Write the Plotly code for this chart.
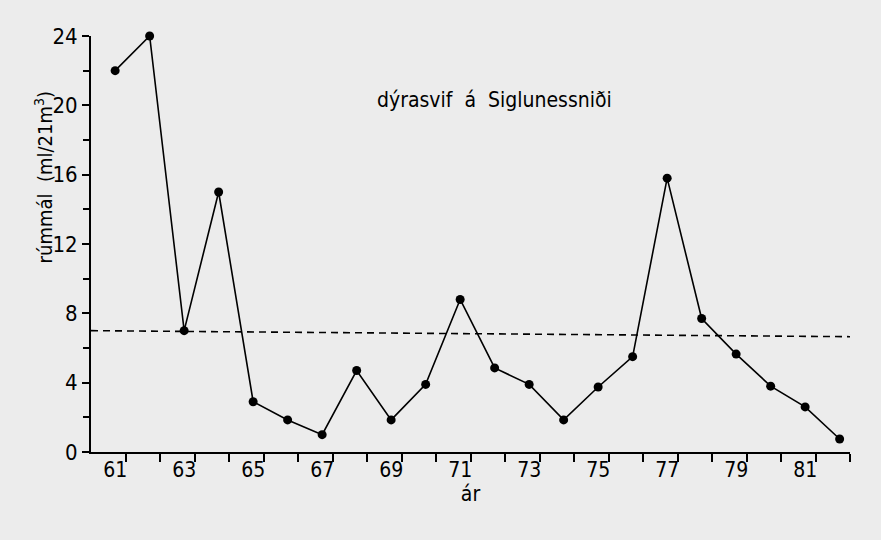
import plotly.graph_objects as go

years = [61, 62, 63, 64, 65, 66, 67, 68, 69, 70, 71, 72, 73, 74, 75, 76, 77, 78, 79, 80, 81, 82]
volume = [22.0, 24.0, 7.0, 15.0, 2.9, 1.85, 1.0, 4.7, 1.85, 3.9, 8.8, 4.85, 3.9, 1.85, 3.75, 5.5, 15.8, 7.7, 5.65, 3.8, 2.6, 0.75]
mean_x = [60.3, 82.45]
mean_y = [7.0, 6.65]
x_labels = [61, 63, 65, 67, 69, 71, 73, 75, 77, 79, 81]
y_labels = [0, 4, 8, 12, 16, 20, 24]

FONT = "DejaVu Sans Condensed, Liberation Sans Narrow, sans-serif"
BG = "#ececec"

fig = go.Figure()
fig.add_trace(go.Scatter(
    x=mean_x, y=mean_y, mode="lines",
    line=dict(color="black", width=1.6, dash="7px,5px"),
    cliponaxis=False, hoverinfo="skip", showlegend=False))
fig.add_trace(go.Scatter(
    x=years, y=volume, mode="lines+markers",
    line=dict(color="black", width=1.6),
    marker=dict(color="black", size=9),
    cliponaxis=False, showlegend=False))

fig.update_layout(
    width=881, height=540,
    margin=dict(l=91, r=31, t=36, b=88),
    paper_bgcolor=BG, plot_bgcolor=BG,
    font=dict(family=FONT, color="black", size=20),
    xaxis=dict(
        range=[60.3, 82.3], showgrid=False, zeroline=False,
        showline=True, linecolor="black", linewidth=2,
        tickmode="array", tickvals=x_labels, ticktext=[str(v) for v in x_labels],
        ticks="", ticklen=0, ticklabelstandoff=-2,
        tickfont=dict(family=FONT, size=21),
        minor=dict(tickvals=[y + 0.3 for y in years], ticks="outside",
                   ticklen=8, tickwidth=2, tickcolor="black"),
        title=dict(text="ár", font=dict(family=FONT, size=21), standoff=0),
    ),
    yaxis=dict(
        range=[0, 24], showgrid=False, zeroline=False,
        showline=True, linecolor="black", linewidth=2,
        tickmode="array", tickvals=y_labels,
        ticks="outside", ticklen=7, tickwidth=2, tickcolor="black",
        tickfont=dict(family=FONT, size=22),
        minor=dict(tickvals=[2, 6, 10, 14, 18, 22], ticks="outside",
                   ticklen=6, tickwidth=2, tickcolor="black"),
    ),
    annotations=[
        dict(text="dýrasvif  á  Siglunessniði", xref="paper", yref="paper",
             x=0.532, y=0.846, xanchor="center", yanchor="middle", showarrow=False,
             font=dict(family=FONT, size=21)),
        dict(text="rúmmál  (ml/21m<sup>3</sup>)", xref="paper", yref="paper",
             x=-0.062, y=0.66, xanchor="center", yanchor="middle",
             textangle=-90, showarrow=False,
             font=dict(family=FONT, size=20)),
    ],
)

fig.write_html("out.html", config={"displayModeBar": False}, post_script=(
    "document.body.style.margin='0px';"
    "document.body.style.background='" + BG + "';"
    "document.documentElement.style.overflow='hidden';"))
